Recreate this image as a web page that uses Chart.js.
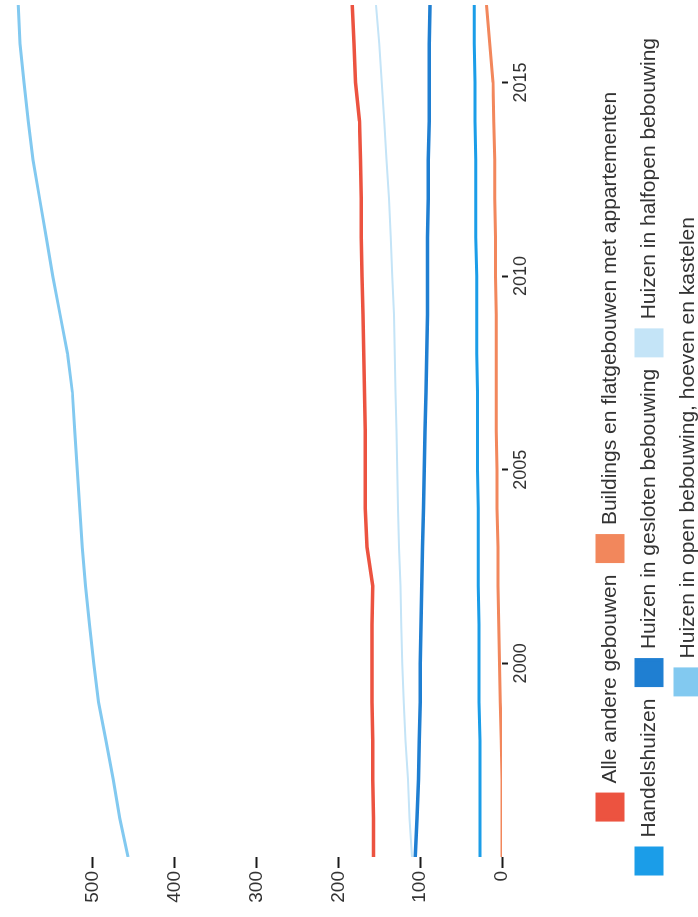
<!DOCTYPE html>
<html lang="nl">
<head>
<meta charset="utf-8">
<title>Gebouwen</title>
<script src="https://cdn.jsdelivr.net/npm/chart.js@4/dist/chart.umd.min.js"></script>
<style>
    html, body { margin: 0; padding: 0; background: #fff; width: 698px; height: 917px; overflow: hidden; }
    /* 元の図は横倒しなので、キャンバスごと90度回す */
    #wrap { position: absolute; left: 0; top: 917px; width: 917px; height: 711px; transform-origin: 0 0; transform: rotate(-90deg); }
</style>
</head>
<body>
<div id="wrap"><canvas id="gebouwenChart" width="917" height="711"></canvas></div>
<script>
// データ
var years = [1995, 1996, 1997, 1998, 1999, 2000, 2001, 2002, 2003, 2004, 2005, 2006,
             2007, 2008, 2009, 2010, 2011, 2012, 2013, 2014, 2015, 2016, 2017];
var alleAndere = [157, 157, 158, 158, 159, 159, 159, 158, 165, 167, 167, 167, 168, 169, 170, 171, 172, 172, 173, 174, 179, 181, 183];
var buildings = [0, 0, 0, 1, 2, 3, 4, 5, 5, 6, 6, 7, 7, 7, 7, 8, 8, 9, 9, 10, 11, 15, 19];
var handelshuizen = [27, 27, 27, 27, 28, 28, 28, 29, 29, 29, 30, 30, 30, 31, 31, 31, 32, 32, 32, 33, 33, 34, 34];
var geslotenBebouwing = [106, 104, 102, 101, 100, 100, 99, 98, 97, 96, 95, 94, 93, 92, 91, 91, 91, 90, 90, 89, 89, 89, 88];
var halfopenBebouwing = [110, 113, 115, 118, 120, 122, 123, 124, 126, 127, 128, 129, 130, 131, 132, 134, 136, 138, 141, 144, 147, 150, 154];
var openBebouwing = [457, 467, 475, 484, 493, 499, 504, 509, 513, 516, 519, 522, 525, 531, 540, 549, 557, 565, 573, 579, 584, 589, 591];

var seriesNames = ['Alle andere gebouwen', 'Buildings en flatgebouwen met appartementen', 'Handelshuizen',
                   'Huizen in gesloten bebouwing', 'Huizen in halfopen bebouwing', 'Huizen in open bebouwing, hoeven en kastelen'];
var yearTicks = [2000, 2005, 2010, 2015];
var valueTicks = [0, 100, 200, 300, 400, 500];

// 色と線の太さ
var colors = ['#ec5340', '#f2875c', '#1b9de8', '#1f7fd2', '#c4e4f7', '#82c9f0'];
var widths = [3.5, 3, 3, 3.5, 2, 3];

Chart.defaults.font.family = "'Liberation Sans', Arial, sans-serif";

// グラフ描画
var drawChart = function (canvasId) {
    var ctx = document.getElementById(canvasId)
    var series = [alleAndere, buildings, handelshuizen, geslotenBebouwing, halfopenBebouwing, openBebouwing]
    var tickMarks = {
        drawOnChartArea: false,
        drawTicks: true,
        tickColor: '#1a1a1a',
        tickWidth: 2
    }
    new Chart(ctx, {
        type: 'line',
        data: {
            labels: years,
            datasets: series.map(function (data, i) {
                return {
                    label: seriesNames[i],
                    data: data,
                    borderColor: colors[i],
                    backgroundColor: colors[i],
                    borderWidth: widths[i],
                    pointRadius: 0,
                    tension: 0
                }
            })
        },
        options: {
            responsive: false,
            animation: false,
            layout: {
                padding: { left: 10, right: 5, top: 11, bottom: 0 }
            },
            plugins: {
                legend: {
                    position: 'bottom',
                    labels: {
                        boxWidth: 26,
                        boxHeight: 26,
                        padding: 13,
                        color: '#333',
                        font: { size: 21 },
                        generateLabels: function (chart) {
                            return Chart.defaults.plugins.legend.labels.generateLabels(chart).map(function (item) {
                                item.lineWidth = 3
                                return item
                            })
                        }
                    }
                },
                tooltip: { enabled: false }
            },
            scales: {
                x: {
                    type: 'linear',
                    min: 1995,
                    max: 2017,
                    afterBuildTicks: function (axis) {
                        axis.ticks = yearTicks.map(function (v) { return { value: v } })
                    },
                    afterFit: function (axis) {
                        axis.height = 82
                        axis.paddingLeft = 0
                        axis.paddingRight = 0
                    },
                    grid: Object.assign({ tickLength: 6 }, tickMarks),
                    border: { display: false },
                    ticks: {
                        padding: 2,
                        color: '#333',
                        font: { size: 18 },
                        maxRotation: 0,
                        callback: function (v) { return String(v) }
                    }
                },
                y: {
                    min: 0,
                    max: 600,
                    afterBuildTicks: function (axis) {
                        axis.ticks = valueTicks.map(function (v) { return { value: v } })
                    },
                    afterFit: function (axis) {
                        axis.width = 50
                        axis.paddingTop = 0
                        axis.paddingBottom = 0
                    },
                    grid: Object.assign({ tickLength: 11 }, tickMarks),
                    border: { display: false },
                    ticks: {
                        padding: 3,
                        color: '#333',
                        font: { size: 19 },
                        callback: function (v) { return String(v) }
                    }
                }
            }
        }
    })
}

// 描画実行
drawChart('gebouwenChart');
</script>
</body>
</html>
